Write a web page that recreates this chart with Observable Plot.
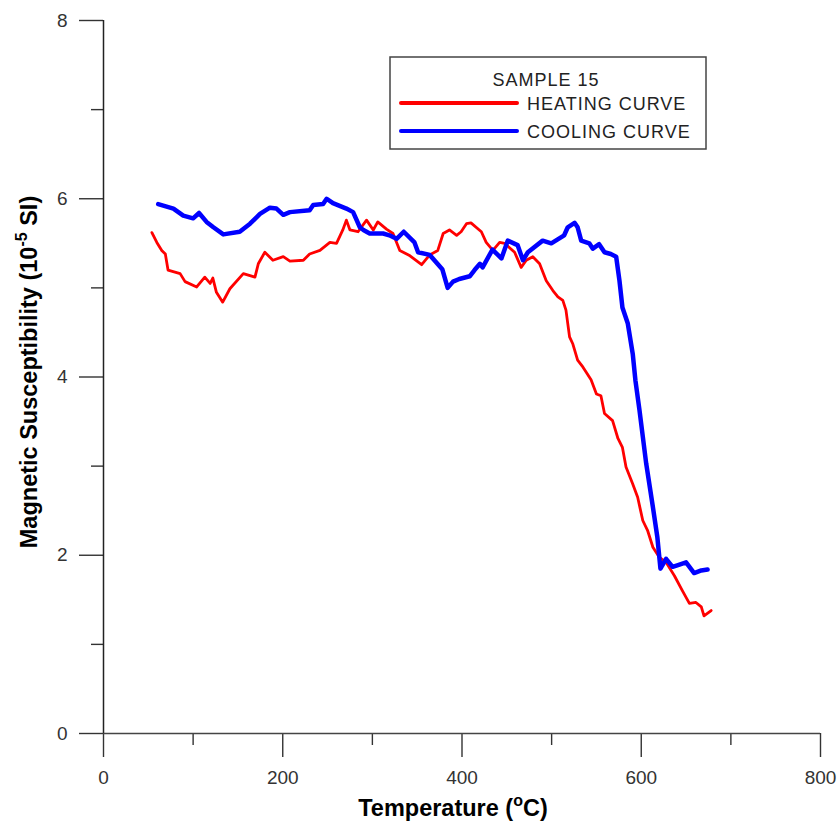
<!DOCTYPE html>
<html><head><meta charset="utf-8">
<script src="https://cdn.jsdelivr.net/npm/d3@7"></script>
<script src="https://cdn.jsdelivr.net/npm/@observablehq/plot@0.6"></script>
<style>body{margin:0;background:#fff;} #chart{width:838px;height:825px;}</style>
</head><body><div id="chart"></div>
<script>
// Heating curve (temperature °C, susceptibility 1e-5 SI)
const heatT = [54,59.5,65,69,72,85.5,91,104,113,119,122,126,133,141,156,169,172.7,180,189,200.6,208,223,230,241.5,252.6,260,267,271,275,284,293.5,301,306,315.7,323,330.6,342,355,364,373,379,386,394,399,405,410,421.6,427,434.5,442,447.6,458.7,466,471.7,479,486.6,494,501.4,507,512.5,516,520,523.7,529,535,544,550,555,559,568,574,579,583,590.5,596,601.7,607,613,620,627.7,637,646,653.7,661,667,670,678];
const heatK = [5.62,5.51,5.42,5.38,5.20,5.16,5.07,5.01,5.12,5.05,5.11,4.95,4.84,4.99,5.16,5.12,5.27,5.40,5.31,5.35,5.30,5.31,5.38,5.42,5.51,5.50,5.65,5.76,5.65,5.63,5.76,5.65,5.74,5.66,5.61,5.42,5.36,5.26,5.37,5.42,5.61,5.65,5.59,5.63,5.72,5.73,5.63,5.51,5.42,5.51,5.50,5.40,5.23,5.31,5.35,5.27,5.08,4.97,4.90,4.86,4.75,4.45,4.37,4.19,4.11,3.97,3.81,3.79,3.59,3.51,3.31,3.21,2.99,2.80,2.65,2.39,2.28,2.09,1.98,1.92,1.77,1.60,1.46,1.47,1.42,1.32,1.38];
// Cooling curve
const coolT = [61,78,89,100,106.6,115,122.6,133.7,152,163.5,174.6,185.7,193,200.6,208,230,234,245,249,256,271,278.5,286,290,297,312,319,327,335,347,351,364,378,384,390,397,408.6,414,420,423,434,444,451,462,468,473.5,490,499.6,514,518,525.6,529,533,542,546,553,559,566,572,575.7,579,585,590.5,593.5,598,605.5,613,618,621.4,627.7,635,641,650,659,667,674];
const coolK = [5.94,5.89,5.81,5.78,5.84,5.74,5.68,5.60,5.63,5.72,5.83,5.90,5.89,5.82,5.85,5.87,5.93,5.94,6.00,5.95,5.89,5.85,5.68,5.65,5.61,5.61,5.59,5.55,5.63,5.51,5.40,5.37,5.21,5.00,5.07,5.10,5.13,5.20,5.27,5.23,5.43,5.33,5.53,5.48,5.31,5.40,5.53,5.50,5.59,5.68,5.73,5.68,5.53,5.50,5.44,5.49,5.40,5.38,5.35,5.08,4.78,4.60,4.26,3.96,3.63,3.03,2.54,2.20,1.85,1.96,1.87,1.89,1.92,1.80,1.83,1.84];

const xMajor = [0,200,400,600,800];
const xMinor = [100,300,500,700];
const yMajor = [0,2,4,6,8];
const yMinor = [1,3,5,7];
const legendTitle = "SAMPLE 15";
const seriesNames = ["HEATING CURVE","COOLING CURVE"];
const seriesColors = ["#ff0000","#0000ff"];

const heat = heatT.map((t,i)=>({t, k: heatK[i]}));
const cool = coolT.map((t,i)=>({t, k: coolK[i]}));
const FONT = "'Liberation Sans', Arial, Helvetica, sans-serif";

const plot = Plot.plot({
  width: 838, height: 825,
  marginLeft: 103, marginRight: 18, marginTop: 20, marginBottom: 92,
  style: {fontFamily: FONT, fontSize: "19px", color: "#333", background: "#fff"},
  x: {domain: [0, 800]},
  y: {domain: [0, 8]},
  marks: [
    Plot.axisX({ticks: xMajor, tickSize: 24, tickPadding: 13, label: null, strokeWidth: 1.4}),
    Plot.axisX({ticks: xMinor, tickSize: 12, tickFormat: () => "", label: null, strokeWidth: 1.4}),
    Plot.axisY({ticks: yMajor, tickSize: 24, tickPadding: 12, label: null, strokeWidth: 1.4}),
    Plot.axisY({ticks: yMinor, tickSize: 12, tickFormat: () => "", label: null, strokeWidth: 1.4}),
    Plot.ruleY([0], {stroke: "#444", strokeWidth: 1.5}),
    Plot.ruleX([0], {stroke: "#222", strokeWidth: 1.5}),
    Plot.line(heat, {x: "t", y: "k", stroke: seriesColors[0], strokeWidth: 2.8}),
    Plot.line(cool, {x: "t", y: "k", stroke: seriesColors[1], strokeWidth: 4.5})
  ]
});
document.getElementById("chart").appendChild(plot);

const svg = d3.select(plot);
// Axis titles
const xt = svg.append("text").attr("x", 453).attr("y", 816).attr("text-anchor", "middle")
  .attr("font-family", FONT).attr("font-weight", "bold").attr("font-size", 23.5).attr("fill", "#000");
xt.append("tspan").text("Temperature (");
xt.append("tspan").attr("dy", -10).attr("font-size", 16).text("o");
xt.append("tspan").attr("dy", 10).text("C)");

const yt = svg.append("text").attr("transform", "translate(37,372) rotate(-90)").attr("text-anchor", "middle")
  .attr("font-family", FONT).attr("font-weight", "bold").attr("font-size", 23.5).attr("fill", "#000");
yt.append("tspan").text("Magnetic Susceptibility (10");
yt.append("tspan").attr("dy", -10).attr("font-size", 16).text("-5");
yt.append("tspan").attr("dy", 10).text(" SI)");

// Legend
const lg = svg.append("g").attr("font-family", FONT).attr("font-size", 18).attr("fill", "#222")
  .attr("letter-spacing", 1).attr("text-anchor", "start");
lg.append("rect").attr("x", 390).attr("y", 57).attr("width", 316).attr("height", 92)
  .attr("fill", "#fff").attr("stroke", "#444").attr("stroke-width", 1.5);
lg.append("text").attr("x", 546).attr("y", 86).attr("text-anchor", "middle").text(legendTitle);
seriesNames.forEach((name, i) => {
  const y = 103 + i * 28;
  lg.append("line").attr("x1", 401).attr("x2", 517).attr("y1", y).attr("y2", y)
    .attr("stroke", seriesColors[i]).attr("stroke-width", 4).attr("stroke-linecap", "round");
  lg.append("text").attr("x", 527).attr("y", y + 7).attr("text-anchor", "start").text(name);
});
</script>
</body></html>
